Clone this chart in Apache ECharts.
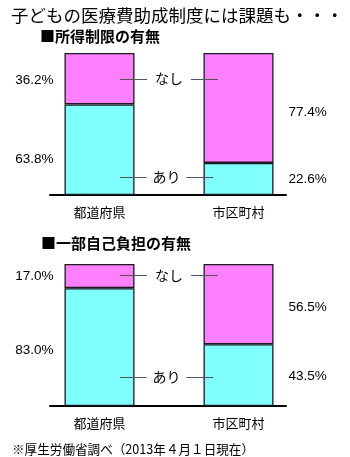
<!DOCTYPE html>
<html>
<head>
<meta charset="utf-8">
<script src="https://cdn.jsdelivr.net/npm/echarts@6/dist/echarts.min.js"></script>
<style>
html,body{margin:0;padding:0;background:#fff;}
#c{width:350px;height:457px;}
</style>
</head>
<body>
<div id="c"></div>
<script>
const categories = ['都道府県', '市区町村'];
const limitAri = [63.8, 22.6];
const limitNashi = [36.2, 77.4];
const copayAri = [83.0, 43.5];
const copayNashi = [17.0, 56.5];
const seriesNames = ['あり', 'なし'];

const JP = '"Noto Sans CJK JP", sans-serif';
const NUM = '"Liberation Sans", Arial, "Noto Sans CJK JP", sans-serif';
const PINK = '#ff80ff';
const CYAN = '#80ffff';

function pctItems(values, offsets) {
  return values.map((v, i) => ({
    value: v,
    label: {
      position: i === 0 ? 'left' : 'right',
      distance: i === 0 ? 11 : 15,
      offset: [0, offsets[i]]
    }
  }));
}

function annot(name, yVal, x1, x2, pad) {
  return {
    symbol: ['none', 'none'],
    silent: true,
    animation: false,
    lineStyle: { color: '#555', width: 1, type: 'solid' },
    label: {
      show: true, position: 'insideMiddle', distance: 0, formatter: '{b}',
      color: '#000', fontSize: 14, fontFamily: JP,
      backgroundColor: '#fff', padding: [1, pad]
    },
    data: [[{ name: name, coord: [0, yVal], x: x1 }, { coord: [1, yVal], x: x2 }]]
  };
}

function barSeries(name, values, color, gridAxis, offsets, stack, markLine) {
  const s = {
    name: name, type: 'bar', stack: stack,
    xAxisIndex: gridAxis, yAxisIndex: gridAxis,
    barWidth: 70,
    itemStyle: { color: color, borderColor: '#1a1a22', borderWidth: 1.3 },
    label: {
      show: true, color: '#000', fontSize: 13.5, fontFamily: NUM,
      formatter: p => p.value.toFixed(1) + '%'
    },
    data: pctItems(values, offsets)
  };
  if (markLine) s.markLine = markLine;
  return s;
}

const gridTops = [53, 264];
const grids = [];
const xAxes = [];
const yAxes = [];
gridTops.forEach((t, i) => {
  grids.push({ left: 30, width: 278, top: t, height: 142 });
});
gridTops.forEach((t, i) => {
  grids.push({ left: 50, width: 236, top: t, height: 142 });
});
for (let i = 0; i < 2; i++) {
  xAxes.push({
    type: 'category', gridIndex: i, data: categories,
    axisLine: { show: false }, axisTick: { show: false },
    axisLabel: { fontSize: 13, margin: 11, color: '#000', fontFamily: JP }
  });
  yAxes.push({ type: 'value', gridIndex: i, min: 0, max: 100, show: false });
}
for (let i = 2; i < 4; i++) {
  xAxes.push({
    type: 'value', gridIndex: i, min: 0, max: 1,
    axisLine: { show: true, onZero: false, lineStyle: { color: '#000', width: 2 } },
    axisTick: { show: false }, axisLabel: { show: false }, splitLine: { show: false }
  });
  yAxes.push({ type: 'value', gridIndex: i, min: 0, max: 1, show: false });
}

const option = {
  animation: false,
  backgroundColor: '#fff',
  title: [
    { text: '子どもの医療費助成制度には課題も・・・', left: 6, top: 2,
      textStyle: { fontSize: 17.5, fontWeight: 'normal', color: '#000', fontFamily: JP } },
    { text: '■所得制限の有無', left: 35, top: 24,
      textStyle: { fontSize: 15, fontWeight: 'bold', color: '#000', fontFamily: JP } },
    { text: '■一部自己負担の有無', left: 36, top: 231,
      textStyle: { fontSize: 15, fontWeight: 'bold', color: '#000', fontFamily: JP } },
    { text: '※厚生労働省調べ（2013年４月１日現在）', left: 7, top: 438,
      textStyle: { fontSize: 12.6, fontWeight: 'normal', color: '#000', fontFamily: JP } }
  ],
  grid: grids,
  xAxis: xAxes,
  yAxis: yAxes,
  series: [
    barSeries(seriesNames[0], limitAri, CYAN, 0, [10, 0], 'a', annot('あり', 12.7, 120, 213, 6)),
    barSeries(seriesNames[1], limitNashi, PINK, 0, [2, 4], 'a', annot('なし', 81.7, 120, 218, 8)),
    barSeries(seriesNames[0], copayAri, CYAN, 1, [3, 1], 'b', annot('あり', 20.4, 120, 213, 6)),
    barSeries(seriesNames[1], copayNashi, PINK, 1, [0, 3], 'b', annot('なし', 91.8, 120, 218, 8))
  ]
};

const chart = echarts.init(document.getElementById('c'), null, { renderer: 'canvas' });
chart.setOption(option);
</script>
</body>
</html>
